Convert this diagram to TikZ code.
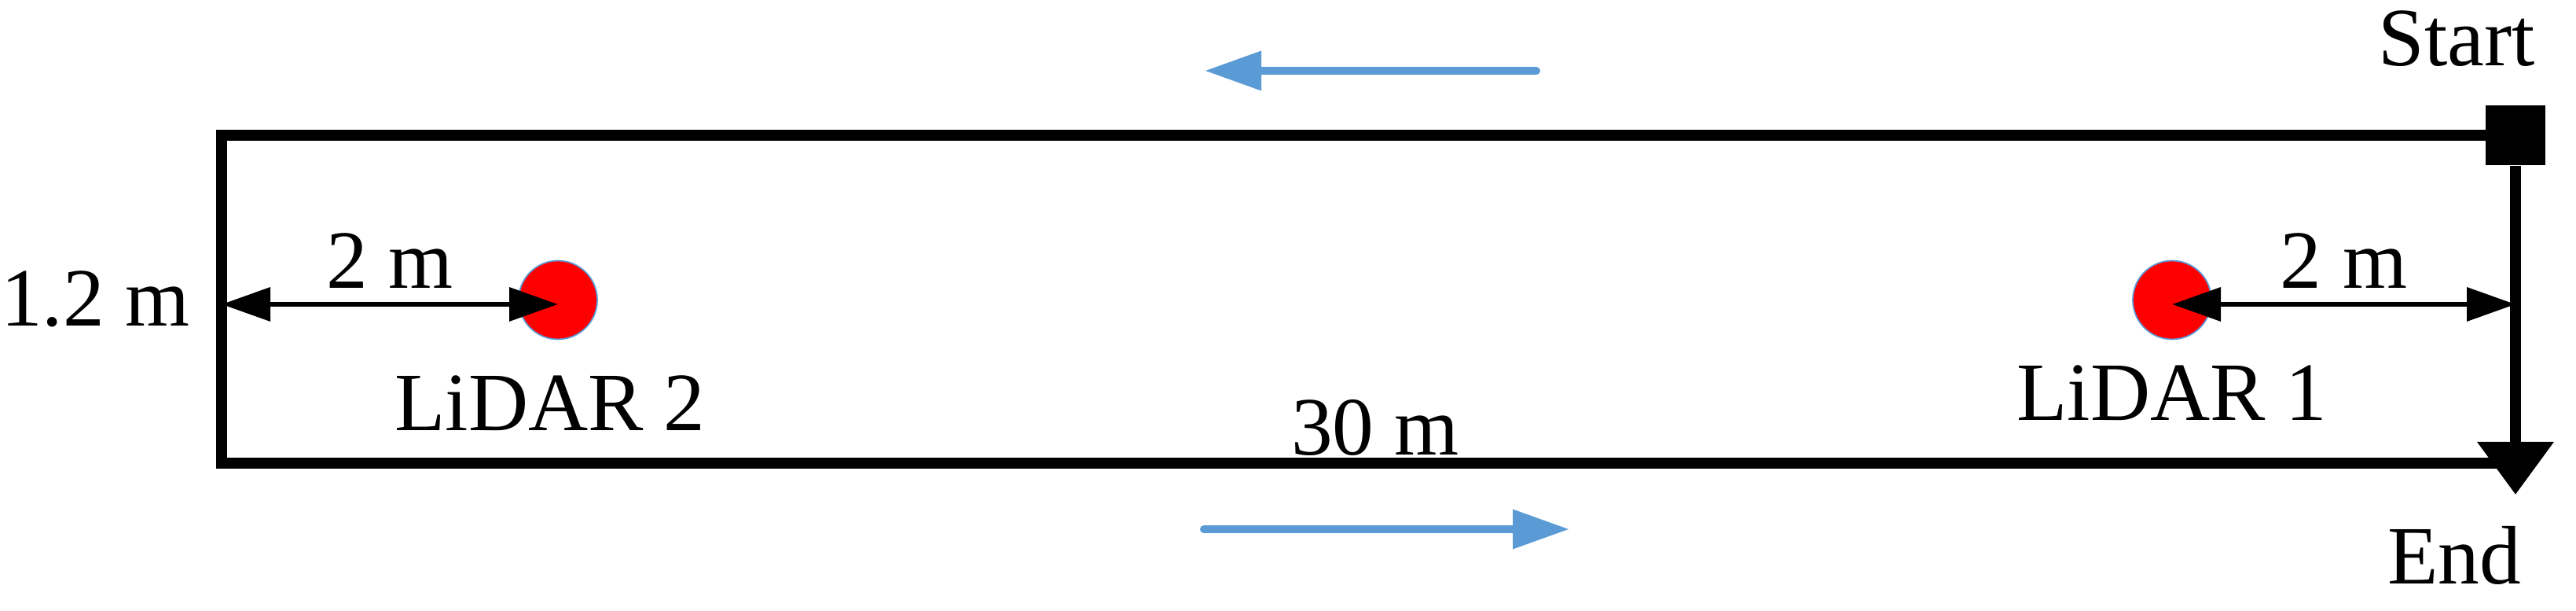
\documentclass[tikz,border=0pt]{standalone}
\usepackage{fontspec}
\setmainfont{Liberation Serif}
\usepackage{tikz}
\usepackage{xcolor}
\usetikzlibrary{arrows.meta,positioning}
\definecolor{flowblue}{RGB}{91,155,213}

\begin{document}
\begin{tikzpicture}[node distance=0.45cm,
        every node/.style={font=\fontsize{30}{36}\selectfont, inner sep=0pt},
        track/.style={line width=4pt},
        dimline/.style={line width=1.9pt, {Triangle[length=0.62cm,width=0.42cm]}-{Triangle[length=0.62cm,width=0.42cm]}},
        flow/.style={draw=flowblue, line width=2.85pt, line cap=round, -{Triangle[length=0.72cm,width=0.48cm]}},
        lidar/.style={circle, fill=red, draw=flowblue, line width=0.5pt, minimum size=1.0cm}]
        \useasboundingbox (0,0) rectangle (32.78,7.77);

        % Track outline
        \coordinate (tl) at (2.82,6.05);
        \coordinate (tr) at (32.01,6.05);
        \coordinate (bl) at (2.82,1.88);
        \coordinate (br) at (32.01,1.88);
        \draw [track] (tr) -- (tl) -- (bl) -- (br);

        % Start and end
        \node [fill=black, minimum size=0.76cm] (start_sq) at (tr) {};
        \coordinate (end_tip) at (32.01,1.48);
        \draw [track, -{Triangle[width=0.94cm,length=0.67cm]}] (start_sq.south) -- (end_tip);
        \node [anchor=base] (start_lbl) at (31.26,6.93) {Start};
        \node [anchor=base] (end_lbl) at (31.23,0.34) {End};

        % LiDAR 2
        \node [lidar] (lidar_two) at (7.10,3.955) {};
        \node [below=0.45cm of lidar_two, xshift=-0.10cm] (lidar_two_lbl) {LiDAR 2};
        \coordinate (wall_l) at (2.82,3.90);
        \coordinate (lidar_two_c) at (lidar_two |- wall_l);
        \draw [dimline] (wall_l) -- node [above=0.17cm] (gap_two) {2 m} (lidar_two_c);
        \node [anchor=base east] (width_lbl) at (2.42,3.62) {1.2 m};

        % LiDAR 1
        \node [lidar] (lidar_one) at (27.64,3.955) {};
        \node [below=0.32cm of lidar_one] (lidar_one_lbl) {LiDAR 1};
        \coordinate (wall_r) at (32.01,3.90);
        \coordinate (lidar_one_c) at (lidar_one |- wall_r);
        \draw [dimline] (lidar_one_c) -- node [above=0.17cm] (gap_one) {2 m} (wall_r);

        % Track length
        \node [anchor=base] (len_lbl) at (17.50,1.98) {30 m};

        % Driving direction
        \coordinate (up_tail) at (19.55,6.87);
        \coordinate (up_tip) at (15.33,6.87);
        \coordinate (down_tail) at (15.32,1.04);
        \coordinate (down_tip) at (19.97,1.04);
        \draw [flow] (up_tail) -- (up_tip);
        \draw [flow] (down_tail) -- (down_tip);
    \end{tikzpicture}
\end{document}
